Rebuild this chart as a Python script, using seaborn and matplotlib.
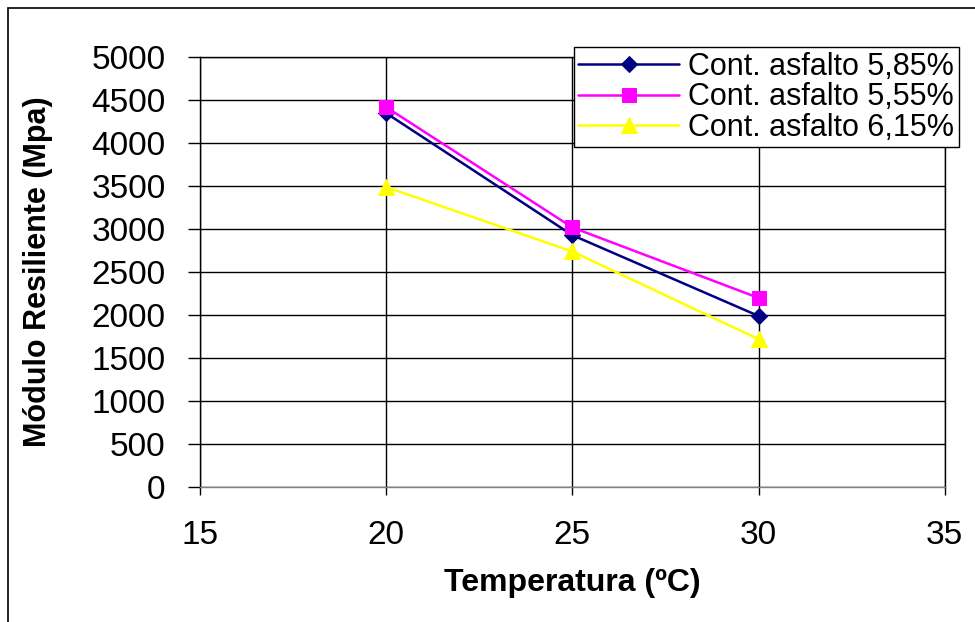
import numpy as np
import pandas as pd
import matplotlib
matplotlib.use("Agg")
import matplotlib.pyplot as plt
import seaborn as sns
from matplotlib.patches import Rectangle

sns.set_style("white")
plt.rcParams['font.family'] = ['Liberation Sans', 'DejaVu Sans']
plt.rcParams['text.color'] = 'black'
plt.rcParams['axes.labelcolor'] = 'black'
plt.rcParams['xtick.color'] = 'black'
plt.rcParams['ytick.color'] = 'black'

temperatura = [20, 25, 30]
mr_585 = [4350, 2930, 1990]
mr_555 = [4420, 3020, 2200]
mr_615 = [3490, 2740, 1720]
series_names = ["Cont. asfalto 5,85%", "Cont. asfalto 5,55%", "Cont. asfalto 6,15%"]

df = pd.DataFrame({
    "Temperatura": temperatura * 3,
    "MR": mr_585 + mr_555 + mr_615,
    "Serie": [series_names[0]] * 3 + [series_names[1]] * 3 + [series_names[2]] * 3,
})

colors = {series_names[0]: "#000080", series_names[1]: "#FF00FF", series_names[2]: "#FFFF00"}
markers = {series_names[0]: "D", series_names[1]: "s", series_names[2]: "^"}
msizes = {series_names[0]: 8, series_names[1]: 10, series_names[2]: 11}

fig = plt.figure(figsize=(9.75, 6.22), dpi=100)
ax = fig.add_axes([0.205, 0.217, 0.764, 0.691])

for name in series_names:
    sub = df[df["Serie"] == name]
    sns.lineplot(data=sub, x="Temperatura", y="MR", ax=ax, color=colors[name],
                 marker=markers[name], markersize=msizes[name],
                 markeredgecolor=colors[name], linewidth=1.8, label=name)

ax.set_xlim(15, 35)
ax.set_ylim(0, 5000)
ax.set_xticks([15, 20, 25, 30, 35])
ax.set_yticks(np.arange(0, 5001, 500))
ax.grid(True, color="black", linewidth=1)
ax.set_axisbelow(True)
for s in ax.spines.values():
    s.set_color("black")
    s.set_linewidth(1)
ax.spines["bottom"].set_color("#808080")
ax.tick_params(axis="both", direction="out", width=1, labelsize=24, left=True, bottom=True)
ax.tick_params(axis="y", length=8.6, pad=16)
ax.tick_params(axis="x", length=5.8, pad=18)

ax.set_xlabel("Temperatura (ºC)", fontsize=23, fontweight="bold", labelpad=12)
ax.set_ylabel("Módulo Resiliente (Mpa)", fontsize=22, fontweight="bold", labelpad=28)

leg = ax.legend(loc="upper right", bbox_to_anchor=(1.019, 1.023), fontsize=22,
                frameon=True, fancybox=False, borderpad=0.15, labelspacing=0.01,
                handlelength=3.3, handletextpad=0.3, borderaxespad=0.0)
leg.get_frame().set_edgecolor("black")
leg.get_frame().set_linewidth(1)
leg.get_frame().set_alpha(1)

fig.patches.append(Rectangle((0.008, -0.01), 1.0, 0.997, transform=fig.transFigure,
                             fill=False, edgecolor="black", linewidth=1.2))

fig.savefig("out.png", dpi=100)
